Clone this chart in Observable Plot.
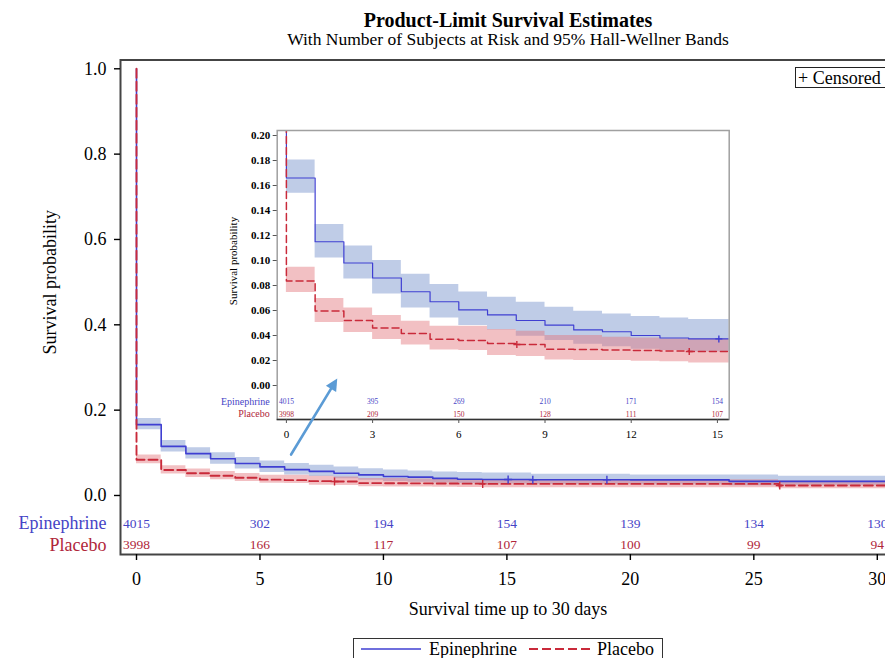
<!DOCTYPE html>
<html><head><meta charset="utf-8">
<script src="https://cdn.jsdelivr.net/npm/d3@7"></script>
<script src="https://cdn.jsdelivr.net/npm/@observablehq/plot@0.6"></script>
<style>
body{margin:0;background:#fff;overflow:hidden}
#wrap{position:relative;width:885px;height:658px;overflow:hidden;background:#fff;font-family:"Liberation Serif","Times New Roman",serif;color:#000}
#wrap > svg{position:absolute;left:0;top:0}
.box{position:absolute;white-space:nowrap;line-height:1;box-sizing:border-box}
</style></head><body><div id="wrap"></div>
<script>
// ---- data ----
const groups = ["Epinephrine", "Placebo"];
const chartTitle = "Product-Limit Survival Estimates";
const chartSubtitle = "With Number of Subjects at Risk and 95% Hall-Wellner Bands";
const xLabel = "Survival time up to 30 days";
const yLabel = "Survival probability";
const censorLabel = "+ Censored";

const epiTime  = [0, 1, 2, 3, 4, 5, 6, 7, 8, 9, 10, 11, 12, 13, 14, 16, 20, 24, 26];
const epiSurv  = [0.166, 0.115, 0.098, 0.086, 0.075, 0.067, 0.0605, 0.0565, 0.052, 0.0483, 0.0445, 0.043, 0.040, 0.038, 0.0373, 0.0368, 0.0365, 0.033, 0.033];
const epiUpper = [0.1805, 0.1288, 0.1117, 0.100, 0.0891, 0.0808, 0.0749, 0.0707, 0.0667, 0.0627, 0.0595, 0.0573, 0.0552, 0.0541, 0.0528, 0.050, 0.048, 0.048, 0.045];
const epiLower = [0.1539, 0.1021, 0.0853, 0.0733, 0.0621, 0.0541, 0.048, 0.0445, 0.0395, 0.036, 0.033, 0.031, 0.029, 0.028, 0.027, 0.026, 0.025, 0.023, 0.023];

const placTime  = [0, 1, 2, 3, 4, 5, 6, 7, 8, 9, 10, 11, 12, 13, 14, 26];
const placSurv  = [0.0837, 0.0597, 0.052, 0.0461, 0.0416, 0.0371, 0.036, 0.0336, 0.0328, 0.029, 0.0288, 0.0285, 0.028, 0.0277, 0.0272, 0.0235];
const placUpper = [0.0947, 0.0696, 0.0621, 0.056, 0.0515, 0.0475, 0.0475, 0.0448, 0.0435, 0.040, 0.040, 0.0387, 0.0381, 0.0373, 0.037, 0.034];
const placLower = [0.0744, 0.0504, 0.0424, 0.0368, 0.0325, 0.0285, 0.028, 0.024, 0.0232, 0.0205, 0.020, 0.020, 0.0195, 0.019, 0.0181, 0.0155];

const epiCensor  = [15.05, 16.05, 19.05];
const placCensor = [8.02, 14.02, 26.05];

const mainTicksX = [0, 5, 10, 15, 20, 25, 30];
const mainTicksY = [0, 0.2, 0.4, 0.6, 0.8, 1.0];
const epiAtRisk  = [4015, 302, 194, 154, 139, 134, 130];
const placAtRisk = [3998, 166, 117, 107, 100, 99, 94];

const insetTicksX = [0, 3, 6, 9, 12, 15];
const insetTicksY = [0, 0.02, 0.04, 0.06, 0.08, 0.10, 0.12, 0.14, 0.16, 0.18, 0.20];
const epiAtRiskInset  = [4015, 395, 269, 210, 171, 154];
const placAtRiskInset = [3998, 209, 150, 128, 111, 107];

// annotation arrow (data coordinates of the main chart)
const arrowAnno = [{x1: 6.26, y1: 0.096, x2: 8.13, y2: 0.274}];

// ---- styles ----
const FONT = '"Liberation Serif","Times New Roman",serif';
const BLUE = "#3f3fd2", RED = "#c92a3a";
const BLUE_TXT = "#4644c6", RED_TXT = "#b0263a";
const BLUE_BAND = "#bfcce7", RED_BAND = "#e3747a";
const ARROW = "#5b9bd5";

// ---- helpers ----
const END = 32;
function lineRows(times, surv) {
  return [{t: times[0], s: 1}, ...times.map((t, i) => ({t, s: surv[i]})), {t: END, s: surv[surv.length - 1]}];
}
function bandRows(times, lo, hi) {
  const r = times.map((t, i) => ({t, lo: lo[i], hi: hi[i]}));
  r.push({t: END, lo: lo[lo.length - 1], hi: hi[hi.length - 1]});
  return r;
}
function survAt(times, surv, t) {
  let v = 1;
  for (let i = 0; i < times.length; i++) if (times[i] <= t) v = surv[i];
  return v;
}
const epiLine = lineRows(epiTime, epiSurv), placLine = lineRows(placTime, placSurv);
const epiBand = bandRows(epiTime, epiLower, epiUpper), placBand = bandRows(placTime, placLower, placUpper);
const epiCens = epiCensor.map(t => ({t, s: survAt(epiTime, epiSurv, t)}));
const placCens = placCensor.map(t => ({t, s: survAt(placTime, placSurv, t)}));
const plusSymbol = {draw(ctx, size) { const r = Math.sqrt(size / Math.PI); ctx.moveTo(-r, 0); ctx.lineTo(r, 0); ctx.moveTo(0, -r); ctx.lineTo(0, r); }};
const headSymbol = {draw(ctx) { ctx.moveTo(0, 0); ctx.lineTo(-6, 12); ctx.lineTo(6, 12); ctx.closePath(); }};

function curveMarks(lw, dash, cr) {
  return [
    Plot.areaY(epiBand, {x: "t", y1: "lo", y2: "hi", curve: "step-after", fill: BLUE_BAND, clip: true}),
    Plot.areaY(placBand, {x: "t", y1: "lo", y2: "hi", curve: "step-after", fill: RED_BAND, fillOpacity: 0.45, clip: true}),
    Plot.line(epiLine, {x: "t", y: "s", curve: "step-after", stroke: BLUE, strokeWidth: lw, clip: true}),
    Plot.line(placLine, {x: "t", y: "s", curve: "step-after", stroke: RED, strokeWidth: lw + 0.3, strokeDasharray: dash, clip: true}),
    Plot.dot(epiCens, {x: "t", y: "s", symbol: plusSymbol, r: cr, stroke: BLUE, fill: "none", strokeWidth: 1.4, clip: true}),
    Plot.dot(placCens, {x: "t", y: "s", symbol: plusSymbol, r: cr, stroke: RED, fill: "none", strokeWidth: 1.4, clip: true})
  ];
}

// ---- inset ----
const insetYDomain = [-0.0272, 0.204];
const inset = Plot.plot({
  width: 885, height: 658,
  marginLeft: 276.7, marginRight: 156.3, marginTop: 130, marginBottom: 239,
  style: {background: "transparent", maxWidth: "none", fontFamily: FONT, overflow: "visible"},
  x: {domain: [-0.32, 15.41]},
  y: {domain: insetYDomain},
  marks: [
    ...curveMarks(1.2, "7,4", 3.5),
    Plot.text(insetTicksX.map((t, i) => ({t, n: epiAtRiskInset[i]})), {x: "t", text: d => String(d.n), frameAnchor: "bottom", lineAnchor: "middle", dy: -18, fill: BLUE_TXT, fontSize: 7.5}),
    Plot.text(insetTicksX.map((t, i) => ({t, n: placAtRiskInset[i]})), {x: "t", text: d => String(d.n), frameAnchor: "bottom", lineAnchor: "middle", dy: -5, fill: RED_TXT, fontSize: 7.5}),
    Plot.text([groups[0]], {text: d => d, frameAnchor: "bottom-left", lineAnchor: "middle", dx: -7.4, dy: -18, textAnchor: "end", fill: BLUE_TXT, fontSize: 10}),
    Plot.text([groups[1]], {text: d => d, frameAnchor: "bottom-left", lineAnchor: "middle", dx: -7.4, dy: -5.5, textAnchor: "end", fill: RED_TXT, fontSize: 10}),
    Plot.text([yLabel], {text: d => d, frameAnchor: "left", textAnchor: "middle", lineAnchor: "middle", dx: -44, dy: -14, rotate: -90, fontSize: 11}),
    Plot.frame({stroke: "#a0a0a0", strokeWidth: 1.5}),
    Plot.ruleY([insetYDomain[0]], {stroke: "#333", strokeWidth: 1.5}),
    Plot.axisX({ticks: insetTicksX, tickSize: 4, tickPadding: 7, fontSize: 11, label: null, stroke: "#555"}),
    Plot.axisY({ticks: insetTicksY, tickFormat: d3.format(".2f"), tickSize: 4, tickPadding: 3, fontSize: 11, fontWeight: "bold", label: null, stroke: "#555"})
  ]
});

// ---- main ----
function makeMain(extra) {
  return Plot.plot({
    width: 900, height: 658,
    marginLeft: 120, marginRight: 0, marginTop: 59.5, marginBottom: 104,
    style: {background: "transparent", maxWidth: "none", fontFamily: FONT, overflow: "visible"},
    x: {domain: [-0.648, 30.94]},
    y: {domain: [-0.1383, 1.0206]},
    marks: [
      ...curveMarks(1.6, "9,4", 4),
      Plot.text(mainTicksX.map((t, i) => ({t, n: epiAtRisk[i]})), {x: "t", text: d => String(d.n), frameAnchor: "bottom", lineAnchor: "middle", dy: -30.5, fill: BLUE_TXT, fontSize: 13.5}),
      Plot.text(mainTicksX.map((t, i) => ({t, n: placAtRisk[i]})), {x: "t", text: d => String(d.n), frameAnchor: "bottom", lineAnchor: "middle", dy: -9.5, fill: RED_TXT, fontSize: 13.5}),
      Plot.text([groups[0]], {text: d => d, frameAnchor: "bottom-left", lineAnchor: "middle", dx: -14, dy: -31.5, textAnchor: "end", fill: BLUE_TXT, fontSize: 18}),
      Plot.text([groups[1]], {text: d => d, frameAnchor: "bottom-left", lineAnchor: "middle", dx: -14, dy: -9.5, textAnchor: "end", fill: RED_TXT, fontSize: 18}),
      Plot.frame({stroke: "#444", strokeWidth: 2}),
      Plot.axisX({ticks: mainTicksX, tickSize: 6, tickPadding: 12, fontSize: 18, label: null, strokeWidth: 1.4}),
      Plot.axisY({ticks: mainTicksY, tickFormat: d3.format(".1f"), tickSize: 6, tickPadding: 8, fontSize: 18, label: null, strokeWidth: 1.4}),
      Plot.text([yLabel], {text: d => d, frameAnchor: "left", textAnchor: "middle", lineAnchor: "middle", dx: -70, dy: -25, rotate: -90, fontSize: 18}),
      Plot.text([xLabel], {text: d => d, frameAnchor: "bottom", textAnchor: "middle", lineAnchor: "middle", dx: -2.5, dy: 55, fontSize: 18}),
      Plot.text([chartTitle], {text: d => d, frameAnchor: "top", textAnchor: "middle", lineAnchor: "middle", dx: -2.5, dy: -39.9, fontSize: 20, fontWeight: "bold"}),
      Plot.text([chartSubtitle], {text: d => d, frameAnchor: "top", textAnchor: "middle", lineAnchor: "middle", dx: -2.5, dy: -20.5, fontSize: 17.5}),
      Plot.arrow(arrowAnno, {x1: "x1", y1: "y1", x2: "x2", y2: "y2", stroke: ARROW, strokeWidth: 2.6, headLength: 0, insetEnd: 8}),
      ...extra
    ]
  });
}
// first pass to read the pixel direction of the arrow, then add a filled head
const probe = makeMain([]);
const sx = probe.scale("x"), sy = probe.scale("y");
const a = arrowAnno[0];
const ang = Math.atan2(sx.apply(a.x2) - sx.apply(a.x1), -(sy.apply(a.y2) - sy.apply(a.y1))) * 180 / Math.PI;
const main = makeMain([
  Plot.dot(arrowAnno, {x: "x2", y: "y2", symbol: headSymbol, r: 5, fill: ARROW, stroke: "none", rotate: ang})
]);

const wrap = document.getElementById("wrap");
wrap.appendChild(inset);
wrap.appendChild(main);

// censored key box
const cbox = document.createElement("div");
cbox.className = "box";
Object.assign(cbox.style, {left: "795px", top: "66.5px", width: "120px", height: "21px", border: "1.5px solid #222", fontSize: "18px", paddingLeft: "2px", paddingTop: "1.5px", background: "#fff"});
cbox.textContent = censorLabel;
wrap.appendChild(cbox);

// bottom legend
const leg = document.createElement("div");
leg.className = "box";
Object.assign(leg.style, {left: "352.5px", top: "638px", width: "310px", height: "32px", border: "1.2px solid #333", background: "#fff"});
leg.innerHTML = `<svg width="308" height="30" style="position:absolute;left:0;top:0;font-family:${FONT.replace(/"/g, "'")};font-size:18px">
  <line x1="7" x2="67" y1="10" y2="10" stroke="${BLUE}" stroke-width="1.6"/>
  <text x="75" y="16">${groups[0]}</text>
  <line x1="175" x2="237" y1="10" y2="10" stroke="${RED}" stroke-width="1.8" stroke-dasharray="9,4"/>
  <text x="243" y="16">${groups[1]}</text></svg>`;
wrap.appendChild(leg);
</script></body></html>
